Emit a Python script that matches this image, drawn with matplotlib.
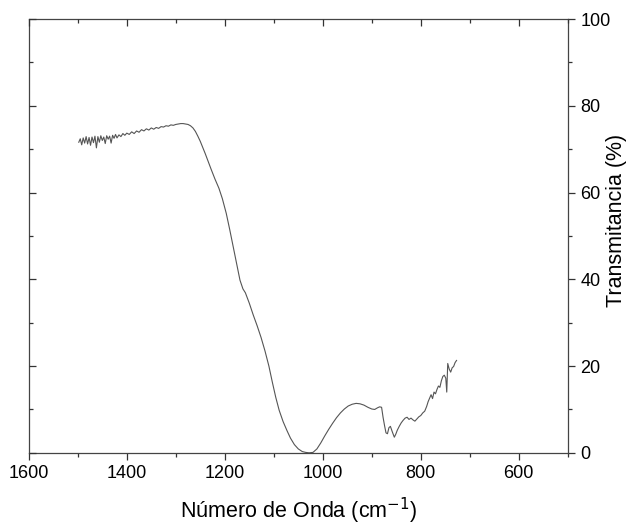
import matplotlib.pyplot as plt
from matplotlib.ticker import MultipleLocator

plt.rcParams['font.family'] = ['Liberation Sans', 'DejaVu Sans']

# espectro FTIR
numero_onda = [
    1498, 1495, 1492, 1489, 1486, 1483, 1480, 1477, 1474, 1471,
    1468, 1465, 1462, 1459, 1456, 1453, 1450, 1447, 1444, 1441,
    1438, 1435, 1432, 1429, 1426, 1423, 1420, 1416, 1412, 1408,
    1404, 1400, 1395, 1390, 1385, 1380, 1375, 1370, 1365, 1360,
    1355, 1350, 1345, 1340, 1335, 1330, 1325, 1320, 1315, 1310,
    1305, 1300, 1295, 1290, 1285, 1280, 1275, 1270, 1265, 1260,
    1255, 1250, 1245, 1240, 1235, 1228, 1220, 1212, 1205, 1197,
    1190, 1183, 1176, 1169, 1163, 1158, 1150, 1142, 1134, 1126,
    1118, 1110, 1103, 1096, 1089, 1081, 1073, 1066, 1058, 1050,
    1042, 1035, 1028, 1020, 1012, 1004, 996, 988, 980, 972,
    964, 956, 948, 940, 932, 924, 916, 908, 900, 894,
    888, 884, 880, 877, 874, 871, 868, 865, 862, 858,
    854, 851, 848, 844, 840, 836, 832, 828, 824, 820,
    816, 812, 808, 804, 800, 796, 792, 788, 785, 782,
    779, 776, 773, 770, 767, 764, 761, 758, 755, 752,
    749, 747, 745, 742, 739, 736, 733, 730, 727,
]
transmitancia = [
    71.6, 72.4, 71.0, 72.6, 71.4, 72.9, 71.2, 72.7, 70.9, 72.8,
    71.5, 73.0, 70.3, 72.9, 71.6, 73.1, 72.0, 72.8, 71.3, 73.1,
    72.3, 73.0, 71.4, 73.2, 72.5, 73.4, 72.6, 73.3, 72.9, 73.6,
    73.2, 73.7, 73.4, 74.0, 73.6, 74.2, 73.9, 74.5, 74.2, 74.7,
    74.4, 74.9, 74.6, 75.0, 74.8, 75.2, 75.1, 75.4, 75.3, 75.6,
    75.5, 75.7, 75.8, 75.9, 75.9, 75.8, 75.7, 75.4, 74.9, 74.1,
    73.0, 71.8, 70.4, 69.0, 67.5, 65.4, 63.1, 61.0, 58.6, 55.2,
    51.5, 47.6, 43.7, 39.8, 37.8, 36.9, 34.5, 31.8, 29.3, 26.6,
    23.5, 20.0, 16.3, 12.8, 9.8, 7.2, 5.1, 3.4, 1.9, 0.9,
    0.3, 0.1, 0.0, 0.1, 0.9, 2.3, 3.9, 5.4, 6.8, 8.1,
    9.2, 10.1, 10.8, 11.2, 11.4, 11.3, 11.0, 10.5, 10.1, 10.0,
    10.4, 10.6, 10.5, 8.2, 6.3, 4.6, 4.4, 5.8, 6.1, 4.8,
    3.6, 4.3, 5.2, 6.1, 6.9, 7.5, 8.0, 8.2, 7.7, 8.0,
    7.6, 7.3, 7.8, 8.3, 8.6, 9.2, 9.6, 10.7, 11.8, 12.6,
    13.4, 12.5, 14.0, 13.6, 14.6, 15.4, 15.1, 16.6, 17.6, 17.9,
    17.2, 14.0, 20.6, 19.3, 18.6, 19.6, 19.9, 20.8, 21.3,
]

rect = [0.046, 0.144, 0.861, 0.820]
fig = plt.figure(figsize=(6.26, 5.29), dpi=100)
ax = fig.add_axes(rect)

ax.plot(numero_onda, transmitancia, color='#555555', lw=0.8)

ax.set_xlim(1600, 500)
ax.set_ylim(0, 100)

ax.xaxis.set_major_locator(MultipleLocator(200))
ax.xaxis.set_minor_locator(MultipleLocator(100))
ax.yaxis.set_major_locator(MultipleLocator(20))
ax.yaxis.set_minor_locator(MultipleLocator(10))

# abajo y derecha: marcas hacia fuera con etiquetas
ax.yaxis.tick_right()
ax.yaxis.set_label_position('right')
ax.tick_params(axis='x', which='both', direction='out', labelsize=13, pad=4)
ax.tick_params(axis='y', which='both', direction='out', labelsize=13, pad=4)
ax.tick_params(which='major', length=5, width=0.9, color='#333333')
ax.tick_params(which='minor', length=2.6, width=0.9, color='#333333')
for s in ax.spines.values():
    s.set_color('#444444')
    s.set_linewidth(0.9)

# arriba e izquierda: marcas hacia dentro sin etiquetas
ax2 = fig.add_axes(rect, facecolor='none')
ax2.set_xlim(1600, 500)
ax2.set_ylim(0, 100)
ax2.xaxis.set_major_locator(MultipleLocator(200))
ax2.xaxis.set_minor_locator(MultipleLocator(100))
ax2.yaxis.set_major_locator(MultipleLocator(20))
ax2.yaxis.set_minor_locator(MultipleLocator(10))
ax2.xaxis.tick_top()
ax2.yaxis.tick_left()
ax2.tick_params(which='both', direction='in', labeltop=False, labelleft=False,
                labelbottom=False, labelright=False, color='#333333')
ax2.tick_params(which='major', length=5, width=0.9)
ax2.tick_params(which='minor', length=2.6, width=0.9)
for s in ax2.spines.values():
    s.set_visible(False)

ax.set_xlabel('Número de Onda (cm$^{-1}$)', fontsize=15.5, labelpad=10)
ax.set_ylabel('Transmitancia (%)', fontsize=15.5)
ax.yaxis.set_label_coords(1.071, 0.535)

fig.savefig('out.png', dpi=100)
